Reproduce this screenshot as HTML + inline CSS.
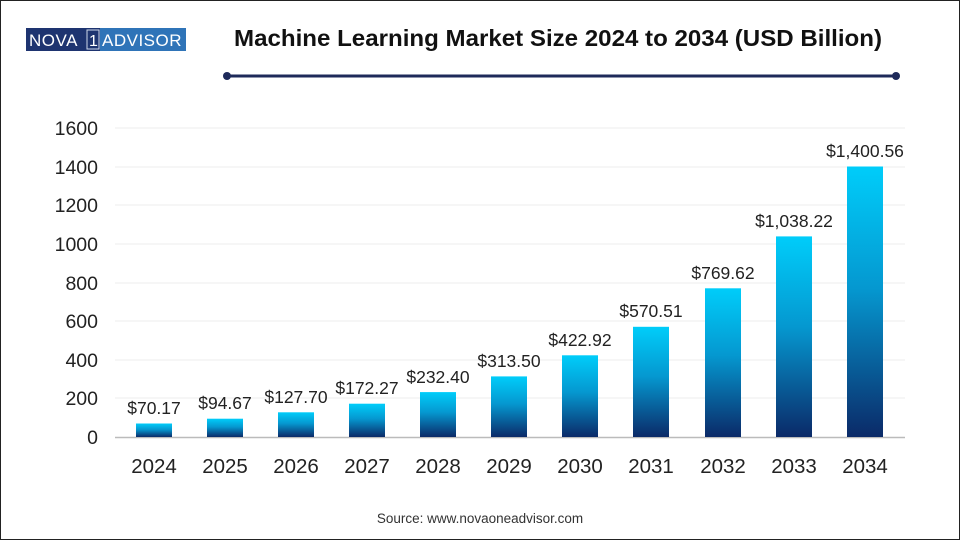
<!DOCTYPE html>
<html><head><style>
body{margin:0;width:960px;height:540px;background:#fff;overflow:hidden;font-family:"Liberation Sans",sans-serif;}
</style></head><body>
<svg width="960" height="540" xmlns="http://www.w3.org/2000/svg" font-family="Liberation Sans, sans-serif">
<defs><linearGradient id="g" x1="0" y1="0" x2="0" y2="1">
<stop offset="0" stop-color="#00cdfa"/><stop offset="0.45" stop-color="#0598d0"/><stop offset="1" stop-color="#0b2a68"/></linearGradient></defs>
<rect x="0.5" y="0.5" width="959" height="539" fill="#fff" stroke="#222" stroke-width="1"/>
<rect x="26" y="28" width="74" height="23" fill="#1e3470"/>
<rect x="100" y="28" width="86" height="23" fill="#2f74b8"/>
<text x="29" y="46" font-size="17" fill="#fff" letter-spacing="0.5">NOVA</text>
<rect x="87" y="30" width="12" height="19" fill="none" stroke="#cfd8ea" stroke-width="1"/>
<text x="89" y="46" font-size="16" fill="#fff">1</text>
<text x="102" y="46" font-size="17" fill="#fff" letter-spacing="0.5">ADVISOR</text>
<text x="558" y="46" font-size="23" font-weight="bold" text-anchor="middle" fill="#111" textLength="648" lengthAdjust="spacingAndGlyphs">Machine Learning Market Size 2024 to 2034 (USD Billion)</text>
<line x1="227" y1="76" x2="896" y2="76" stroke="#1e2a5a" stroke-width="3"/>
<circle cx="227" cy="76" r="4" fill="#1e2a5a"/><circle cx="896" cy="76" r="4" fill="#1e2a5a"/>
<g stroke="#ececec" stroke-width="1">
<line x1="115" y1="128" x2="905" y2="128"/><line x1="115" y1="167" x2="905" y2="167"/><line x1="115" y1="205" x2="905" y2="205"/><line x1="115" y1="244" x2="905" y2="244"/><line x1="115" y1="283" x2="905" y2="283"/><line x1="115" y1="321" x2="905" y2="321"/><line x1="115" y1="360" x2="905" y2="360"/><line x1="115" y1="398" x2="905" y2="398"/>
</g>
<g font-size="19.5" fill="#222" text-anchor="end">
<text x="98" y="135">1600</text><text x="98" y="174">1400</text><text x="98" y="212">1200</text><text x="98" y="251">1000</text><text x="98" y="290">800</text><text x="98" y="328">600</text><text x="98" y="367">400</text><text x="98" y="405">200</text><text x="98" y="444">0</text>
</g>
<line x1="115" y1="437.5" x2="905" y2="437.5" stroke="#bbb" stroke-width="1.5"/>
<g font-size="17.5" fill="#222" text-anchor="middle">
<rect x="136" y="423.5" width="36" height="13.5" fill="url(#g)"/><text x="154" y="414">$70.17</text><text x="154" y="473" font-size="20.5">2024</text>
<rect x="207" y="418.7" width="36" height="18.3" fill="url(#g)"/><text x="225" y="409">$94.67</text><text x="225" y="473" font-size="20.5">2025</text>
<rect x="278" y="412.3" width="36" height="24.7" fill="url(#g)"/><text x="296" y="403">$127.70</text><text x="296" y="473" font-size="20.5">2026</text>
<rect x="349" y="403.7" width="36" height="33.3" fill="url(#g)"/><text x="367" y="394">$172.27</text><text x="367" y="473" font-size="20.5">2027</text>
<rect x="420" y="392.1" width="36" height="44.9" fill="url(#g)"/><text x="438" y="383">$232.40</text><text x="438" y="473" font-size="20.5">2028</text>
<rect x="491" y="376.4" width="36" height="60.6" fill="url(#g)"/><text x="509" y="367">$313.50</text><text x="509" y="473" font-size="20.5">2029</text>
<rect x="562" y="355.3" width="36" height="81.7" fill="url(#g)"/><text x="580" y="346">$422.92</text><text x="580" y="473" font-size="20.5">2030</text>
<rect x="633" y="326.8" width="36" height="110.2" fill="url(#g)"/><text x="651" y="317">$570.51</text><text x="651" y="473" font-size="20.5">2031</text>
<rect x="705" y="288.3" width="36" height="148.7" fill="url(#g)"/><text x="723" y="279">$769.62</text><text x="723" y="473" font-size="20.5">2032</text>
<rect x="776" y="236.4" width="36" height="200.6" fill="url(#g)"/><text x="794" y="227">$1,038.22</text><text x="794" y="473" font-size="20.5">2033</text>
<rect x="847" y="166.5" width="36" height="270.5" fill="url(#g)"/><text x="865" y="157">$1,400.56</text><text x="865" y="473" font-size="20.5">2034</text>
</g>
<text x="480" y="523" font-size="13.5" fill="#333" text-anchor="middle">Source: www.novaoneadvisor.com</text>
</svg>
</body></html>
